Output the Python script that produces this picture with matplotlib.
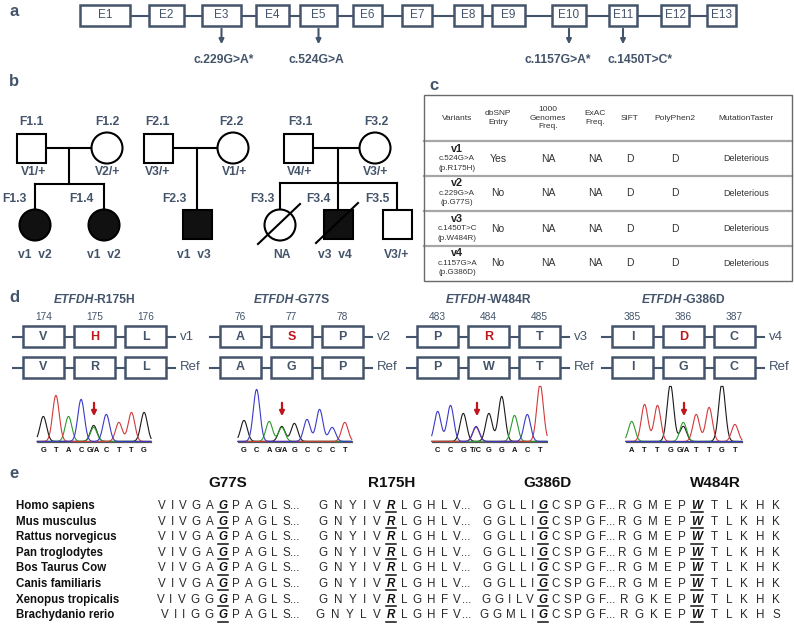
import numpy as np
import matplotlib.pyplot as plt
from matplotlib.patches import Rectangle, Circle
from matplotlib.font_manager import FontProperties

plt.rcParams['font.family'] = ['Liberation Sans', 'DejaVu Sans']

SLATE = '#44546a'
RED = '#c0161b'

# ---- panel a: exons and variants
exons = ['E%d' % i for i in range(1, 14)]
exon_left = [80, 149, 202, 256, 300, 353, 402, 454, 492, 552, 609, 661, 707]
exon_right = [130, 184, 241, 289, 337, 382, 432, 482, 525, 586, 637, 689, 736]
variant_exon = [2, 4, 9, 10]
variant_names = ['c.229G>A*', 'c.524G>A', 'c.1157G>A*', 'c.1450T>C*']
variant_label_x = [224, 316, 558, 640]

# ---- panel c: table
table_header = ['Variants', 'dbSNP\nEntry', '1000\nGenomes\nFreq.', 'ExAC\nFreq.',
                'SIFT', 'PolyPhen2', 'MutationTaster']
variant_ids = ['v1', 'v2', 'v3', 'v4']
variant_cdna = ['c.524G>A', 'c.229G>A', 'c.1450T>C', 'c.1157G>A']
variant_prot = ['(p.R175H)', '(p.G77S)', '(p.W484R)', '(p.G386D)']
dbsnp = ['Yes', 'No', 'No', 'No']
freq_1000g = ['NA', 'NA', 'NA', 'NA']
freq_exac = ['NA', 'NA', 'NA', 'NA']
sift = ['D', 'D', 'D', 'D']
polyphen = ['D', 'D', 'D', 'D']
mut_taster = ['Deleterious'] * 4

# ---- panel d: residues and chromatograms
d_titles = ['R175H', 'G77S', 'W484R', 'G386D']
d_numbers = [[174, 175, 176], [76, 77, 78], [483, 484, 485], [385, 386, 387]]
d_mut = [['V', 'H', 'L'], ['A', 'S', 'P'], ['P', 'R', 'T'], ['I', 'D', 'C']]
d_ref = [['V', 'R', 'L'], ['A', 'G', 'P'], ['P', 'W', 'T'], ['I', 'G', 'C']]
d_tags = ['v1', 'v2', 'v3', 'v4']
chrom_letters = [
    ['G', 'T', 'A', 'C', 'G/A', 'C', 'T', 'T', 'G'],
    ['G', 'C', 'A', 'G/A', 'G', 'C', 'C', 'C', 'T'],
    ['C', 'C', 'G', 'T/C', 'G', 'G', 'A', 'C', 'T'],
    ['A', 'T', 'T', 'G', 'G/A', 'T', 'T', 'G', 'T'],
]
# peaks: (base, height) per position, several for mixed positions
chrom_peaks = [
    [[('G', 25)], [('T', 46)], [('A', 25)], [('C', 42)], [('G', 16), ('A', 14)],
     [('C', 27)], [('T', 19)], [('T', 29)], [('G', 29)]],
    [[('G', 21)], [('C', 52)], [('A', 20)], [('G', 15), ('A', 14)], [('G', 18)],
     [('C', 22)], [('C', 32)], [('C', 14)], [('T', 19)]],
    [[('C', 30)], [('C', 36)], [('G', 28)], [('C', 15), ('T', 14)], [('G', 28)],
     [('G', 45)], [('A', 26)], [('C', 27)], [('T', 57)]],
    [[('A', 20)], [('T', 37)], [('T', 36)], [('G', 57)], [('A', 19), ('G', 15)],
     [('T', 27)], [('T', 34)], [('G', 58)], [('T', 17)]],
]

# ---- panel e: conservation
species = ['Homo sapiens', 'Mus musculus', 'Rattus norvegicus', 'Pan troglodytes',
           'Bos Taurus Cow', 'Canis familiaris', 'Xenopus tropicalis', 'Brachydanio rerio']
e_headers = ['G77S', 'R175H', 'G386D', 'W484R']
seq_g77 = ['VIVGAGPAGLS'] * 6 + ['VIVGGGPAGLS', 'VIIGGGPAGLS']
seq_r175 = ['GNYIVRLGHLV'] * 6 + ['GNYIVRLGHFV', 'GNYLVRLGHFV']
seq_g386 = ['GGLLIGCSPGF'] * 6 + ['GGILVGCSPGF', 'GGMLIGCSPGF']
seq_w484 = ['RGMEPWTLKHK'] * 6 + ['RGKEPWTLKHK', 'RGKEPWTLKHS']

fig = plt.figure(figsize=(7.94, 6.28), dpi=100)
ax = fig.add_axes([0, 0, 1, 1])
ax.set_xlim(0, 794)
ax.set_ylim(628, 0)
ax.axis('off')
renderer = fig.canvas.get_renderer()


def tw(s, pr):
    w, _, _ = renderer.get_text_width_height_descent(s, pr, ismath=False)
    return w


def label(x, y, s):
    ax.text(x, y, s, fontsize=12, fontweight='bold', color=SLATE, ha='left', va='center')


# ---------------- a
label(9, 12, 'a')
ey0, ey1 = 5, 26
ey = (ey0 + ey1) / 2
ax.plot([exon_right[0], exon_left[-1]], [ey, ey], color=SLATE, lw=1.5, zorder=1)
for name, l, r in zip(exons, exon_left, exon_right):
    ax.add_patch(Rectangle((l, ey0), r - l, ey1 - ey0, fc='white', ec=SLATE, lw=1.8, zorder=2))
    ax.text((l + r) / 2, ey, name, fontsize=8.5, color=SLATE, ha='center', va='center', zorder=3)
for i, name, lx in zip(variant_exon, variant_names, variant_label_x):
    x = (exon_left[i] + exon_right[i]) / 2
    ax.annotate('', xy=(x, 47), xytext=(x, ey1),
                arrowprops=dict(arrowstyle='-|>', color=SLATE, lw=1.5, mutation_scale=7))
    ax.text(lx, 60, name, fontsize=8.7, fontweight='bold', color=SLATE, ha='center', va='center')

# ---------------- b
label(9, 82, 'b')
S = 29
R = 15.5


def person(x, y, kind, filled=False, dead=False):
    fc = '#111111' if filled else 'white'
    if kind == 'sq':
        ax.add_patch(Rectangle((x - S / 2, y - S / 2), S, S, fc=fc, ec='black', lw=1.5, zorder=3))
    else:
        ax.add_patch(Circle((x, y), R, fc=fc, ec='black', lw=1.5, zorder=3))
    if dead:
        ax.plot([x - 22, x + 20], [y + 19, y - 21], color='black', lw=1.5, zorder=4)


def ptext(x, y, s):
    ax.text(x, y, s, fontsize=8.7, fontweight='bold', color=SLATE, ha='center', va='center')


py, cy = 148, 224
k = dict(color='black', lw=1.5, zorder=2)
# family 1
ax.plot([31, 107], [py, py], **k)
ax.plot([69, 69], [py, 184], **k)
ax.plot([35, 104], [184, 184], **k)
ax.plot([35, 35], [184, cy], **k)
ax.plot([104, 104], [184, cy], **k)
person(31, py, 'sq'); person(107, py, 'ci')
person(35, cy + 1, 'ci', True); person(104, cy + 1, 'ci', True)
ptext(31, 122, 'F1.1'); ptext(107, 122, 'F1.2')
ptext(34, 172, 'V1/+'); ptext(108, 172, 'V2/+')
ptext(14, 199, 'F1.3'); ptext(81, 199, 'F1.4')
ptext(35, 255, 'v1  v2'); ptext(104, 255, 'v1  v2')
# family 2
ax.plot([158, 233], [py, py], **k)
ax.plot([197, 197], [py, cy], **k)
person(158, py, 'sq'); person(233, py, 'ci')
person(197, cy, 'sq', True)
ptext(157, 122, 'F2.1'); ptext(231, 122, 'F2.2')
ptext(158, 172, 'V3/+'); ptext(235, 172, 'V1/+')
ptext(174, 199, 'F2.3'); ptext(194, 255, 'v1  v3')
# family 3
ax.plot([298, 375], [py, py], **k)
ax.plot([338, 338], [py, 183], **k)
ax.plot([280, 397], [183, 183], **k)
for x in (280, 338, 397):
    ax.plot([x, x], [183, cy], **k)
person(298, py, 'sq'); person(375, py, 'ci')
person(280, cy + 1, 'ci', dead=True)
person(338, cy, 'sq', True, dead=True)
person(397, cy, 'sq')
ptext(300, 122, 'F3.1'); ptext(376, 122, 'F3.2')
ptext(300, 172, 'V4/+'); ptext(376, 172, 'V3/+')
ptext(262, 199, 'F3.3'); ptext(318, 199, 'F3.4'); ptext(377, 199, 'F3.5')
ptext(282, 255, 'NA'); ptext(335, 255, 'v3  v4'); ptext(397, 255, 'V3/+')

# ---------------- c
label(429, 86, 'c')
tx0, tx1 = 424, 792
ty0, thead = 95, 141
row_h = 35
col_x = [457, 498, 548, 595, 630, 675, 746]
ax.add_patch(Rectangle((tx0, ty0), tx1 - tx0, thead + 4 * row_h - ty0,
                       fc='none', ec='#6a6a6a', lw=1.0, zorder=3))
for i in range(4):
    yl = thead + i * row_h
    ax.plot([tx0, tx1], [yl, yl], color='#a6a6a6', lw=1.6, zorder=2)
for x, h in zip(col_x, table_header):
    ax.text(x, (ty0 + thead) / 2, h, fontsize=6, color='#333333', ha='center',
            va='center', linespacing=1.35)
for i in range(4):
    yc = thead + i * row_h + row_h / 2
    ax.text(col_x[0], yc - 10, variant_ids[i], fontsize=7.8, fontweight='bold',
            color='#222222', ha='center', va='center')
    ax.text(col_x[0], yc, variant_cdna[i], fontsize=5.8, color='#333333', ha='center', va='center')
    ax.text(col_x[0], yc + 9.5, variant_prot[i], fontsize=5.8, color='#333333', ha='center', va='center')
    vals = [dbsnp[i], freq_1000g[i], freq_exac[i], sift[i], polyphen[i]]
    for x, v in zip(col_x[1:6], vals):
        ax.text(x, yc, v, fontsize=7.5, color='#333333', ha='center', va='center')
    ax.text(col_x[6], yc, mut_taster[i], fontsize=6.5, color='#333333', ha='center', va='center')

# ---------------- d
label(9, 297, 'd')
box_x0 = [23, 220, 417, 612]
arrow_x = [94, 282, 477, 684]
chrom_x0 = [43.3, 244, 437.7, 631.7]
chrom_step = [12.6, 12.6, 12.8, 12.9]
base_colors = {'G': '#1a1a1a', 'A': '#2e9a2e', 'T': '#d23a3a', 'C': '#3a3ac8'}
BW, BH, GAP = 41, 21, 51
row_y = [326, 357]
tprop_i = FontProperties(family='Liberation Sans', size=8.7, weight='bold', style='italic')
tprop_b = FontProperties(family='Liberation Sans', size=8.7, weight='bold')
for p in range(4):
    x0 = box_x0[p]
    mid = x0 + GAP + BW / 2
    w1 = tw('ETFDH', tprop_i)
    w2 = tw('-' + d_titles[p], tprop_b)
    tl = mid - (w1 + w2) / 2
    ax.text(tl, 300, 'ETFDH', fontproperties=tprop_i, color=SLATE, ha='left', va='center')
    ax.text(tl + w1, 300, '-' + d_titles[p], fontproperties=tprop_b, color=SLATE,
            ha='left', va='center')
    for j in range(3):
        ax.text(x0 + j * GAP + BW / 2, 317, str(d_numbers[p][j]), fontsize=7.3,
                color=SLATE, ha='center', va='center')
    for r, (ry, letters, tag) in enumerate(zip(row_y, [d_mut[p], d_ref[p]], [d_tags[p], 'Ref'])):
        yc = ry + BH / 2
        ax.plot([x0 - 10, x0 + 2 * GAP + BW + 9], [yc, yc], color=SLATE, lw=1.5, zorder=1)
        for j in range(3):
            bx = x0 + j * GAP
            ax.add_patch(Rectangle((bx, ry), BW, BH, fc='white', ec=SLATE, lw=1.8, zorder=2))
            col = RED if (r == 0 and j == 1) else SLATE
            ax.text(bx + BW / 2, yc, letters[j], fontsize=9, fontweight='bold',
                    color=col, ha='center', va='center', zorder=3)
        ax.text(x0 + 2 * GAP + BW + 14, yc, tag, fontsize=9.5, color=SLATE,
                ha='left', va='center')
    # chromatogram
    base_y = 442
    n = len(chrom_letters[p])
    xs = chrom_x0[p] + np.arange(n) * chrom_step[p]
    xx = np.linspace(xs[0] - 6, xs[-1] + 7, 500)
    ax.plot([xx[0], xx[-1]], [base_y, base_y], color='#555555', lw=0.9)
    for b, c in base_colors.items():
        sig = np.zeros_like(xx)
        for xc, pk in zip(xs, chrom_peaks[p]):
            for base, h in pk:
                if base == b:
                    sig += h * np.exp(-(xx - xc) ** 2 / (2 * 3.3 ** 2))
        sig = np.minimum(sig, 55)
        ax.plot(xx, base_y - 0.6 - sig, color=c, lw=0.8)
    for xc, t in zip(xs, chrom_letters[p]):
        ax.text(xc, 451, t, fontsize=5.4, fontweight='bold', color='#111111',
                ha='center', va='center')
    ax.annotate('', xy=(arrow_x[p], 419), xytext=(arrow_x[p], 400),
                arrowprops=dict(arrowstyle='-|>', color=RED, lw=1.6, mutation_scale=7))

# ---------------- e
label(9, 473, 'e')
header_x = [228, 392, 547, 715]
hl_x = [223, 391, 543, 697]
track_left = [5.0, 6.4, 4.3, 6.2]
track_right = [4.7, 5.4, 3.6, 8.0]
for x, h in zip(header_x, e_headers):
    ax.text(x, 483, h, fontsize=11, fontweight='bold', color='#111111', ha='center', va='center')

fs = 8.4
prop = FontProperties(family='Liberation Sans', size=fs)
prop_b = FontProperties(family='Liberation Sans', size=fs, weight='bold', style='italic')
seq_color = '#2a2a2a'

seq_cols = [seq_g77, seq_r175, seq_g386, seq_w484]
for i, sp in enumerate(species):
    y = 506 + 15.6 * i
    ax.text(16, y, sp, fontsize=8.3, fontweight='bold', color='#111111', ha='left', va='center')
    for s_i, col in enumerate(seq_cols):
        seq = col[i]
        hx = hl_x[s_i]
        hw = tw(seq[5], prop_b)
        ax.text(hx, y, seq[5], fontproperties=prop_b, color='#111111', ha='center', va='center')
        ax.plot([hx - hw / 2 - 0.5, hx + hw / 2 + 0.5], [y + 6.3, y + 6.3], color='#111111', lw=1.1)
        t = track_left[s_i]
        x = hx - hw / 2 - t
        for ch in reversed(seq[:5]):
            w = tw(ch, prop)
            ax.text(x - w / 2, y, ch, fontproperties=prop, color=seq_color, ha='center', va='center')
            x -= w + t
        t = track_right[s_i]
        x = hx + hw / 2 + t
        for ch in seq[6:]:
            w = tw(ch, prop)
            ax.text(x + w / 2, y, ch, fontproperties=prop, color=seq_color, ha='center', va='center')
            x += w + t
        if s_i < 3:
            ax.text(x - t + 0.5, y, '...', fontproperties=prop, color=seq_color,
                    ha='left', va='center')

fig.savefig('out.png', dpi=100)
